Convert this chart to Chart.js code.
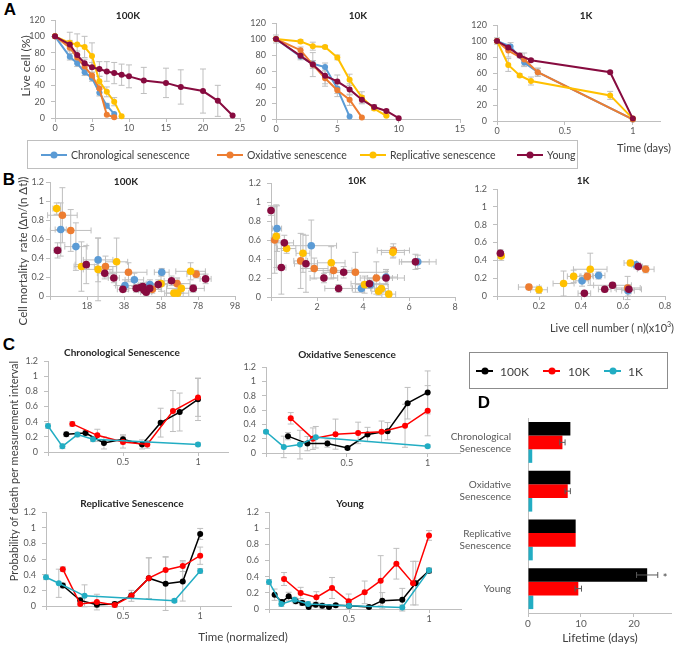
<!DOCTYPE html>
<html>
<head>
<meta charset="utf-8">
<script src="https://cdn.jsdelivr.net/npm/chart.js@4.4.0/dist/chart.umd.min.js"></script>
<style>
  body { margin: 0; background: #fff; width: 675px; height: 646px; position: relative; overflow: hidden;
         font-family: Lato, "Open Sans", sans-serif; color: #262626; }
  canvas { position: absolute; }
  .t { position: absolute; white-space: nowrap; transform: translate(-50%, -50%); z-index: 2; }
  .rot { transform: translate(-50%, -50%) rotate(-90deg); }
  .letter { font-family: "Liberation Sans", Arial, sans-serif; font-weight: bold; font-size: 17px; color: #000; }
  .ttl { font-weight: bold; font-size: 10px; color: #262626; }
  .box { position: absolute; box-sizing: border-box; z-index: 1; }
  .sw { position: absolute; height: 2px; }
  .sw i { position: absolute; left: 50%; top: 50%; width: 7px; height: 7px; border-radius: 50%;
          transform: translate(-50%, -50%); background: inherit; }
  .lt { position: absolute; white-space: nowrap; transform: translateY(-50%); z-index: 2; }
</style>
</head>
<body>
<script>
// ---------- colours ----------
const BLUE = '#5B9BD5', ORANGE = '#ED7D31', YELLOW = '#FFC000', MAROON = '#870B3F';
const BLACK = '#000000', RED = '#FF0000', CYAN = '#22ADC3';

// ---------- A: live cells (%) vs time, [day, %, err] ----------
const A100_CHRONO = [[0,100,0],[2,75,4],[3,67,4],[4,56,4],[5,49,4],[6,31,4],[7,15,3],[8,5,0]];
const A100_OXID   = [[0,100,0],[2,86,4],[3,74,4],[4,63,4],[5,52,4],[6,36,5],[7,4,0],[8,1,0]];
const A100_REPL   = [[0,100,0],[2,92,13],[3,90,13],[4,87,13],[5,76,16],[6,45,6],[7,32,6],[8,20,5],[9,2,0]];
const A100_YOUNG  = [[0,100,0],[2,90,5],[3,77,5],[4,67,5],[5,62,6],[6,60,9],[7,57,12],[8,55,13],[9,53,13],
                     [10,51,14],[12,46,16],[15,43,18],[17,38,21],[20,33,27],[22,21,19],[24,3,0]];

const A10_CHRONO = [[0,100,0],[2,78,4],[3,69,4],[4,65,5],[5,38,6],[6,3,0]];
const A10_OXID   = [[0,100,0],[2,86,4],[3,68,5],[4,51,10],[5,36,8],[6,24,7],[7,2,0]];
const A10_REPL   = [[0,100,5],[2,97,2],[3,91,5],[4,90,2],[5,77,3],[6,49,7],[7,27,7],[8,13,2],[9,4,1]];
const A10_YOUNG  = [[0,100,0],[2,79,3],[3,68,15],[4,54,10],[5,47,8],[6,37,7],[7,24,5],[8,15,3],[9,10,2],[10,1,0]];

const A1_CHRONO = [[0,100,0],[0.1,93,5],[0.2,73,5],[0.3,61,5],[1,2,0]];
const A1_OXID   = [[0,100,0],[0.083,88,8],[0.2,77,8],[0.3,61,5],[1,2,0]];
const A1_REPL   = [[0,100,4],[0.083,70,8],[0.167,57,2],[0.25,50,5],[0.833,32,5],[1,3,0]];
const A1_YOUNG  = [[0,100,0],[0.083,92,3],[0.167,82,3],[0.25,76,2],[0.833,61,2],[1,3,0]];

// ---------- B: mortality rate vs live cells, [n, rate, n err, rate err] ----------
const B100_REPL = [[1.6,0.92,2,0.06],[15,0.31,4,0.26],[24,0.28,8,0.33],[34,0.36,6,0.25],[58,0.13,8,0.08],
                   [65,0.03,5,0.03],[67,0.03,6,0.03],[69,0.08,8,0.05],[74,0.26,8,0.09]];
const B100_CHRONO = [[3.8,0.70,3,0.28],[12,0.52,6,0.25],[24,0.38,8,0.23],[38.5,0.11,5,0.06],[43.6,0.17,5,0.07],
                     [52,0.12,6,0.05],[58.4,0.25,4,0.04]];
const B100_OXID = [[4.7,0.85,8,0.29],[9.2,0.69,11,0.22],[28,0.31,6,0.11],[40.4,0.25,10,0.1],[53.3,0.07,5,0.04],
                   [66.7,0.13,7,0.06],[77,0.23,5,0.04]];
const B100_YOUNG = [[2.1,0.48,2,0.08],[17.6,0.33,6,0.2],[27.6,0.24,4,0.06],[32.5,0.19,3,0.05],[37.4,0.07,3,0.03],
                    [44.6,0.08,4,0.04],[46.9,0.09,3,0.04],[48.2,0.1,3,0.04],[48.9,0.06,3,0.03],[50,0.04,3,0.03],
                    [51.9,0.08,3,0.03],[56.5,0.12,5,0.05],[63.7,0.16,4,0.05],[75.4,0.08,6,0.04],[82.1,0.18,3,0.05]];

const B10_YOUNG = [[0,0.91,0.05,0.05],[0.45,0.31,0.2,0.28],[0.58,0.57,0.4,0.08],[1.52,0.35,0.5,0.3],[2.3,0.2,0.6,0.05],
                   [2.94,0.09,0.6,0.04],[3.16,0.26,0.6,0.06],[4.28,0.14,0.8,0.05],[5.0,0.2,0.8,0.07],[6.28,0.37,0.6,0.08]];
const B10_CHRONO = [[0.26,0.72,0.2,0.24],[1.75,0.54,1.1,0.27],[3.93,0.09,0.4,0.04],[4.33,0.13,0.4,0.04],
                    [5.0,0.21,0.5,0.08],[6.38,0.37,0.8,0.07]];
const B10_OXID = [[0.16,0.6,0.15,0.35],[1.29,0.38,0.3,0.29],[1.88,0.3,0.6,0.11],[2.72,0.28,0.8,0.08],
                  [3.67,0.26,1.4,0.21],[4.58,0.2,0.7,0.17],[5.32,0.49,0.7,0.07]];
const B10_REPL = [[0.23,0.64,0.15,0.33],[0.68,0.51,0.4,0.05],[1.39,0.46,0.3,0.2],[2.62,0.36,0.6,0.17],[4.07,0.13,0.4,0.09],
                  [4.68,0.06,0.3,0.04],[4.8,0.09,0.3,0.04],[5.12,0.03,0.3,0.03],[5.3,0.47,0.5,0.06]];

const B1_YOUNG = [[0.016,0.48,0.005,0.04],[0.416,0.03,0.03,0.02],[0.513,0.075,0.03,0.03],[0.55,0.12,0.09,0.03],
                  [0.628,0.075,0.06,0.05],[0.673,0.33,0.02,0.03]];
const B1_CHRONO = [[0.405,0.17,0.03,0.06],[0.484,0.23,0.03,0.04],[0.624,0.06,0.03,0.06],[0.662,0.35,0.02,0.02]];
const B1_OXID = [[0.152,0.1,0.05,0.03],[0.43,0.22,0.03,0.04],[0.622,0.09,0.06,0.13],[0.708,0.3,0.04,0.04]];
const B1_REPL = [[0.02,0.45,0.005,0.05],[0.2,0.07,0.04,0.04],[0.317,0.14,0.05,0.14],[0.365,0.22,0.03,0.07],
                 [0.444,0.3,0.08,0.18],[0.635,0.37,0.03,0.03]];

// ---------- C: probability of death vs normalised time, [t, p, err] ----------
const C_CHRONO_100K = [[0.122,0.233,0.03],[0.25,0.25,0.03],[0.373,0.12,0.08],[0.5,0.167,0.06],[0.627,0.1,0.06],
                       [0.751,0.387,0.19],[0.878,0.527,0.25],[1,0.695,0.28]];
const C_CHRONO_10K = [[0.162,0.37,0.03],[0.329,0.22,0.08],[0.5,0.132,0.08],[0.662,0.1,0.05],[0.833,0.54,0.27],[1,0.72,0.25]];
const C_CHRONO_1K = [[0,0.343,0.03],[0.096,0.075,0.03],[0.196,0.23,0.03],[0.3,0.167,0.03],[1,0.1,0.02]];

const C_OXID_100K = [[0.136,0.235,0.05],[0.256,0.131,0.1],[0.38,0.131,0.05],[0.504,0.07,0.02],[0.628,0.258,0.1],
                     [0.752,0.305,0.12],[0.876,0.695,0.22],[1,0.845,0.3]];
const C_OXID_10K = [[0.153,0.484,0.08],[0.29,0.2,0.15],[0.43,0.263,0.21],[0.57,0.28,0.15],[0.715,0.296,0.15],
                    [0.86,0.38,0.3],[1,0.59,0.35]];
const C_OXID_1K = [[0,0.296,0.02],[0.11,0.085,0.15],[0.21,0.117,0.2],[0.308,0.22,0.15],[1,0.094,0.02]];

const C_REPL_100K = [[0.109,0.262,0.03],[0.222,0.072,0.03],[0.33,0.017,0.03],[0.446,0.025,0.03],[0.554,0.135,0.03],
                     [0.667,0.355,0.26],[0.776,0.283,0.34],[0.887,0.313,0.25],[1,0.92,0.07]];
const C_REPL_10K = [[0.109,0.47,0.03],[0.222,0.025,0.03],[0.33,0.05,0.1],[0.446,0.013,0.03],[0.554,0.13,0.07],
                    [0.667,0.355,0.26],[0.776,0.46,0.17],[0.887,0.51,0.07],[1,0.642,0.11]];
const C_REPL_1K = [[0,0.367,0.03],[0.083,0.29,0.18],[0.25,0.13,0.14],[0.833,0.068,0.02],[1,0.448,0.03]];

const C_YOUNG_100K = [[0.035,0.177,0.07],[0.081,0.087,0.03],[0.123,0.157,0.05],[0.167,0.095,0.03],[0.208,0.074,0.03],
                      [0.248,0.025,0.03],[0.292,0.054,0.03],[0.333,0.041,0.03],[0.375,0.025,0.02],[0.417,0.045,0.02],
                      [0.5,0.041,0.02],[0.625,0.025,0.02],[0.708,0.103,0.1],[0.833,0.115,0.14],[0.917,0.32,0.27],[1,0.474,0.03]];
const C_YOUNG_10K = [[0.094,0.371,0.08],[0.198,0.198,0.07],[0.296,0.144,0.07],[0.394,0.26,0.13],[0.498,0.095,0.09],
                     [0.598,0.206,0.14],[0.698,0.35,0.31],[0.796,0.56,0.19],[0.9,0.32,0.27],[1,0.91,0.06]];
const C_YOUNG_1K = [[0,0.334,0.03],[0.077,0.062,0.03],[0.16,0.115,0.03],[0.244,0.062,0.03],[0.5,0.04,0.02],
                    [0.833,0.02,0.03],[1,0.478,0.03]];

// ---------- D: lifetime (days) ----------
const D_CATS = [['Chronological', 'Senescence'], ['Oxidative', 'Senescence'], ['Replicative', 'Senescence'], 'Young'];
const D_100K = [8.0, 8.0, 9.0, 22.5];
const D_100K_ERR = [0, 0, 0, 2.0];
const D_10K = [6.5, 7.5, 9.0, 9.5];
const D_10K_ERR = [0.5, 0.5, 0, 0.6];
const D_1K = [0.8, 0.8, 0.9, 1.0];
const D_1K_ERR = [0, 0, 0, 0];

// ---------- setup ----------
Chart.defaults.font.family = 'Lato, "Open Sans", sans-serif';
Chart.defaults.font.size = 9;
Chart.defaults.color = '#595959';

const PT = 6, PR = 8;

// error bars drawn from the data through the chart scales
function drawErr(chart, o) {
  const ctx = chart.ctx, xs = chart.scales.x, ys = chart.scales.y, cap = o.cap || 3;
  const seg = (a, b, c, d) => { ctx.beginPath(); ctx.moveTo(a, b); ctx.lineTo(c, d); ctx.stroke(); };
  ctx.save();
  ctx.strokeStyle = o.color || '#BFBFBF';
  ctx.lineWidth = 1;
  chart.data.datasets.forEach((ds, i) => {
    const meta = chart.getDatasetMeta(i);
    ds.data.forEach((p, j) => {
      if (chart.options.indexAxis === 'y') {
        const e = ds.err && ds.err[j];
        if (!e) return;
        const y = meta.data[j].y;
        const x1 = xs.getPixelForValue(p - e), x2 = xs.getPixelForValue(p + e);
        seg(x1, y, x2, y); seg(x1, y - cap, x1, y + cap); seg(x2, y - cap, x2, y + cap);
        return;
      }
      const px = xs.getPixelForValue(p.x), py = ys.getPixelForValue(p.y);
      if (p.ye) {
        const y1 = ys.getPixelForValue(p.y - p.ye), y2 = ys.getPixelForValue(p.y + p.ye);
        seg(px, y1, px, y2); seg(px - cap, y1, px + cap, y1); seg(px - cap, y2, px + cap, y2);
      }
      if (p.xe) {
        const x1 = xs.getPixelForValue(p.x - p.xe), x2 = xs.getPixelForValue(p.x + p.xe);
        seg(x1, py, x2, py); seg(x1, py - cap, x1, py + cap); seg(x2, py - cap, x2, py + cap);
      }
    });
  });
  ctx.restore();
}
Chart.register({
  id: 'errorBars',
  beforeDatasetsDraw(chart, args, o) { if (o.layer !== 'after') drawErr(chart, o); },
  afterDatasetsDraw(chart, args, o) { if (o.layer === 'after') drawErr(chart, o); }
});

function addCanvas(L, T, R, B, yw, xh) {
  const c = document.createElement('canvas');
  const w = R - L + yw + PR, h = B - T + PT + xh;
  c.width = w; c.height = h;
  c.style.left = (L - yw) + 'px'; c.style.top = (T - PT) + 'px';
  c.style.width = w + 'px'; c.style.height = h + 'px';
  document.body.appendChild(c);
  return c;
}

function noPad(s) { s.paddingLeft = s.paddingRight = s.paddingTop = s.paddingBottom = 0; }

const fmt = v => String(Math.round(v * 1000) / 1000);

function axis(min, max, step, hide, isX, fit, size, pad) {
  return {
    type: 'linear', min, max,
    ticks: { stepSize: step, includeBounds: false, autoSkip: false, maxRotation: 0,
             padding: pad !== undefined ? pad : (isX ? 1 : 6),
             font: { size: size || 9 }, color: '#595959',
             callback: v => hide.includes(Math.round(v * 1000) / 1000) ? '' : fmt(v) },
    grid: { display: true, drawOnChartArea: false, drawTicks: true, tickLength: 4, color: '#BFBFBF' },
    border: { display: true, color: '#BFBFBF' },
    afterFit: s => { if (isX) s.height = fit; else s.width = fit; noPad(s); }
  };
}

const lineDs = (arr, color, w) => ({
  data: arr.map(([x, y, ye]) => ({ x, y, ye })), showLine: true, borderColor: color, backgroundColor: color,
  borderWidth: w || 2, pointRadius: 3, pointBorderWidth: 0, clip: false
});
const dotDs = (arr, color) => ({
  data: arr.map(([x, y, xe, ye]) => ({ x, y, xe, ye })), showLine: false, borderColor: color, backgroundColor: color,
  pointRadius: 3.8, pointBorderWidth: 0, clip: false
});

function plot(rect, xAx, yAx, datasets) {
  const [L, T, R, B] = rect;
  datasets.forEach((d, i) => d.order = datasets.length - i);
  new Chart(addCanvas(L, T, R, B, 32, 20), {
    type: 'scatter',
    data: { datasets },
    options: {
      responsive: false, animation: false, events: [],
      layout: { padding: { top: PT, right: PR, left: 0, bottom: 0 } },
      plugins: { legend: { display: false }, tooltip: { enabled: false }, errorBars: { color: '#BFBFBF' } },
      scales: { x: xAx, y: yAx }
    }
  });
}

// ---------- A ----------
const yA = () => axis(0, 120, 20, [], false, 32);
plot([55, 20, 240, 118], axis(0, 25, 5, [], true, 20), yA(),
  [lineDs(A100_CHRONO, BLUE), lineDs(A100_OXID, ORANGE), lineDs(A100_REPL, YELLOW), lineDs(A100_YOUNG, MAROON)]);
plot([276, 23, 460, 119], axis(0, 15, 5, [], true, 20), yA(),
  [lineDs(A10_CHRONO, BLUE), lineDs(A10_OXID, ORANGE), lineDs(A10_REPL, YELLOW), lineDs(A10_YOUNG, MAROON)]);
plot([497, 25, 660, 121], axis(0, 1.2, 0.5, [], true, 20), yA(),
  [lineDs(A1_CHRONO, BLUE), lineDs(A1_OXID, ORANGE), lineDs(A1_REPL, YELLOW), lineDs(A1_YOUNG, MAROON)]);

// ---------- B ----------
plot([50, 182, 235, 296], axis(-2, 98, 20, [-2], true, 20), axis(0, 1.2, 0.2, [], false, 32, 9, 2),
  [dotDs(B100_CHRONO, BLUE), dotDs(B100_OXID, ORANGE), dotDs(B100_REPL, YELLOW), dotDs(B100_YOUNG, MAROON)]);
plot([271, 183, 455, 297], axis(0, 8, 2, [0], true, 20), axis(0, 1.2, 0.2, [], false, 32),
  [dotDs(B10_CHRONO, BLUE), dotDs(B10_OXID, ORANGE), dotDs(B10_REPL, YELLOW), dotDs(B10_YOUNG, MAROON)]);
plot([497, 189, 665, 296], axis(0, 0.8, 0.2, [0], true, 20), axis(0, 1.2, 0.2, [], false, 32),
  [dotDs(B1_CHRONO, BLUE), dotDs(B1_OXID, ORANGE), dotDs(B1_REPL, YELLOW), dotDs(B1_YOUNG, MAROON)]);

// ---------- C ----------
const xC = () => axis(0, 1.2, 0.5, [0], true, 20);
const yC = () => axis(0, 1.2, 0.2, [], false, 32);
const cSets = (a, b, c) => [lineDs(a, BLACK, 1.5), lineDs(b, RED, 1.5), lineDs(c, CYAN, 1.5)];
plot([48, 361, 228, 452], xC(), yC(), cSets(C_CHRONO_100K, C_CHRONO_10K, C_CHRONO_1K));
plot([266, 367, 460, 453], xC(), yC(), cSets(C_OXID_100K, C_OXID_10K, C_OXID_1K));
plot([46, 512, 231, 606], xC(), yC(), cSets(C_REPL_100K, C_REPL_10K, C_REPL_1K));
plot([269, 512, 461, 609], xC(), yC(), cSets(C_YOUNG_100K, C_YOUNG_10K, C_YOUNG_1K));

// ---------- D ----------
const bar = (label, data, err, color) => ({ label, data, err, backgroundColor: color, borderWidth: 0,
  categoryPercentage: 0.84, barPercentage: 1 });
new Chart(addCanvas(528, 418, 671, 613, 83, 20), {
  type: 'bar',
  data: { labels: D_CATS, datasets: [bar('100K', D_100K, D_100K_ERR, BLACK), bar('10K', D_10K, D_10K_ERR, RED),
                                     bar('1K', D_1K, D_1K_ERR, CYAN)] },
  options: {
    indexAxis: 'y', responsive: false, animation: false, events: [],
    layout: { padding: { top: PT, right: PR, left: 0, bottom: 0 } },
    plugins: { legend: { display: false }, tooltip: { enabled: false },
               errorBars: { layer: 'after', color: '#595959', cap: 3 } },
    scales: {
      x: axis(0, 27, 10, [], true, 20, 10),
      y: { type: 'category', grid: { display: false }, border: { display: true, color: '#BFBFBF' },
           ticks: { padding: 9, font: { size: 10 }, color: '#595959' },
           afterFit: s => { s.width = 83; noPad(s); } }
    }
  }
});

// ---------- text, legends ----------
function txt(s, x, y, cls, css) {
  const d = document.createElement('div');
  d.className = 't ' + (cls || '');
  d.innerHTML = s;
  d.style.left = x + 'px'; d.style.top = y + 'px';
  if (css) d.style.cssText += css;
  document.body.appendChild(d);
}
function box(x, y, w, h, border) {
  const d = document.createElement('div');
  d.className = 'box';
  d.style.cssText += `left:${x}px;top:${y}px;width:${w}px;height:${h}px;border:1px solid ${border}`;
  document.body.appendChild(d);
}
function legItem(x, y, w, color, label, textX, size) {
  const s = document.createElement('div');
  s.className = 'sw';
  s.style.cssText += `left:${x}px;top:${y - 1}px;width:${w}px;background:${color};z-index:2`;
  s.appendChild(document.createElement('i'));
  document.body.appendChild(s);
  const t = document.createElement('div');
  t.className = 'lt';
  t.textContent = label;
  t.style.cssText += `left:${textX}px;top:${y}px;font-size:${size}px;color:#404040`;
  document.body.appendChild(t);
}

txt('A', 10, 10, 'letter');
txt('B', 9, 180, 'letter');
txt('C', 9, 345, 'letter');
txt('D', 484, 403, 'letter');

txt('100K', 128, 15, 'ttl'); txt('10K', 358, 15, 'ttl'); txt('1K', 586, 15, 'ttl');
txt('100K', 126, 181, 'ttl'); txt('10K', 357, 180, 'ttl'); txt('1K', 583, 180, 'ttl');
txt('Chronological Senescence', 122, 352, 'ttl');
txt('Oxidative Senescence', 347, 354, 'ttl');
txt('Replicative Senescence', 132, 503, 'ttl');
txt('Young', 350, 503, 'ttl');

txt('Live cell (%)', 25, 66, 'rot', 'font-size:12px;color:#404040');
txt('Time (days)', 644, 147, '', 'font-size:11px;color:#404040');
txt('Cell mortality&nbsp; rate (Δn/(n Δt))', 22, 251, 'rot', 'font-size:11.5px;color:#404040');
txt('Live cell number ( n)(x10<sup style="font-size:7px;line-height:0">3</sup>)', 612, 327, '',
    'font-size:11px;color:#404040');
txt('Probability of death per measurement interval', 13, 471, 'rot', 'font-size:11px;color:#404040');
txt('Time (normalized)', 243, 636, '', 'font-size:11.5px;color:#404040');
txt('Lifetime (days)', 600, 637, '', 'font-size:12px;color:#404040');
txt('*', 665, 577, '', 'font-size:11px;color:#404040');

box(27, 140, 551, 29, '#BFBFBF');
legItem(41, 155, 26, BLUE, 'Chronological senescence', 71, 10.5);
legItem(217, 155, 26, ORANGE, 'Oxidative senescence', 247, 10.5);
legItem(360, 155, 26, YELLOW, 'Replicative senescence', 390, 10.5);
legItem(517, 155, 26, MAROON, 'Young', 547, 10.5);

box(469, 352, 199, 37, '#8C8C8C');
legItem(476, 371, 17, BLACK, '100K', 500, 12);
legItem(543, 371, 17, RED, '10K', 568, 12);
legItem(604, 371, 17, CYAN, '1K', 628, 12);
</script>
</body>
</html>
